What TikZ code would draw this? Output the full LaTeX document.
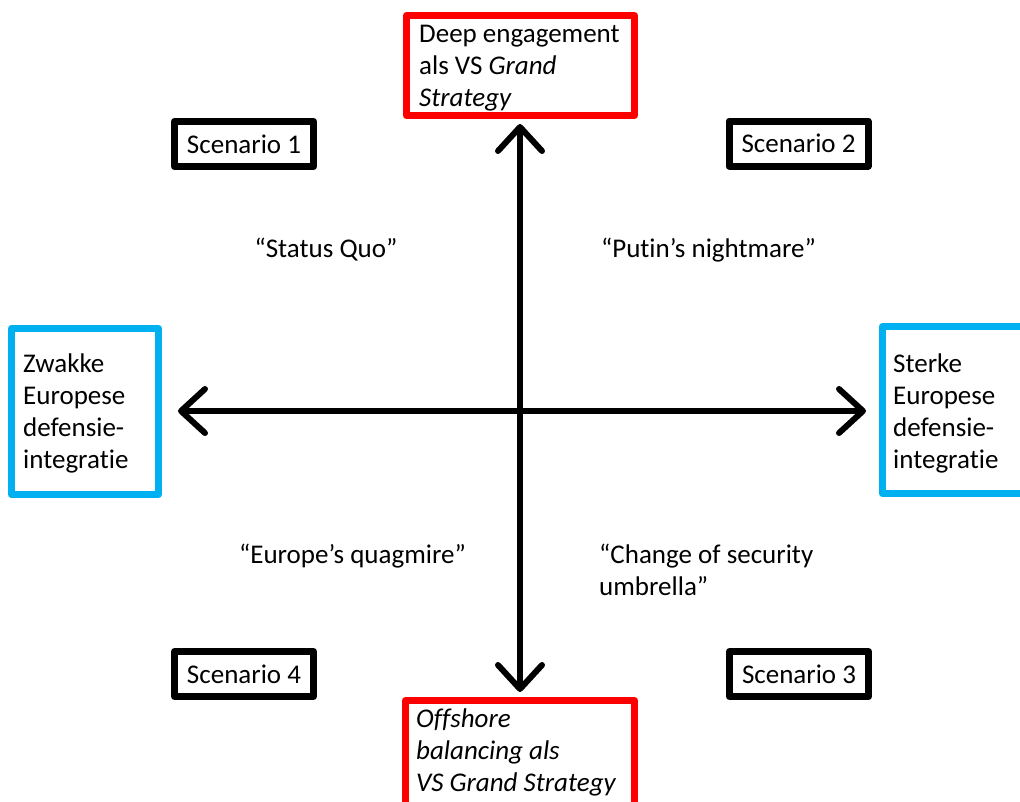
\documentclass[tikz,border=0pt]{standalone}
\usepackage{fontspec}
\setmainfont{Carlito}[RawFeature={-liga}]
\usetikzlibrary{arrows.meta,calc}
\definecolor{boxred}{RGB}{255,0,0}
\definecolor{boxblue}{RGB}{0,176,240}
\newcommand{\fs}{\fontsize{27}{32}\selectfont}
\newcommand{\frst}{\rule{0pt}{22pt}}
\begin{document}
\begin{tikzpicture}[x=1pt,y=-1pt,
  frame/.style={draw=#1, line width=7pt, line join=round, inner sep=0pt, fill=white},
  scen/.style={frame=black, minimum width=139pt, minimum height=45pt, font=\fs},
  txt/.style={inner sep=0pt, font=\fs, align=left, anchor=north west},
  quote/.style={inner sep=0pt, font=\fs, anchor=base},
  axis/.style={line width=6pt, {Straight Barb[length=24pt,width=44pt,round]}-{Straight Barb[length=24pt,width=44pt,round]}}
]
\useasboundingbox[fill=white] (0,0) rectangle (1020,801);

% main boxes
\node[frame=boxred, minimum width=228pt, minimum height=100pt] (deep) at (520.5,65.5) {};
\node[frame=boxred, minimum width=229pt, minimum height=140pt] (off) at (520,770.5) {};
\node[frame=boxblue, minimum width=147pt, minimum height=166pt] (zw) at (85,411.5) {};
\node[frame=boxblue, minimum width=178pt, minimum height=167pt] (st) at (971.5,410) {};

% box texts
\node[txt] (deeptxt) at (419,20) {\frst Deep engagement\\als VS \textit{Grand}\\\textit{Strategy}};
\node[txt] (offtxt) at (416,705) {\frst\textit{Offshore}\\\textit{balancing als}\\\textit{VS Grand Strategy}};
\node[txt] (zwtxt) at (23,350) {\frst Zwakke\\Europese\\defensie-\\integratie};
\node[txt] (sttxt) at (893,350) {\frst Sterke\\Europese\\defensie-\\integratie};

% scenarios
\node[scen] (s1) at (244,144) {Scenario 1};
\node[scen] (s2) at (798.5,143.5) {Scenario 2};
\node[scen] (s3) at (799,674) {Scenario 3};
\node[scen] (s4) at (244,674) {Scenario 4};

% quotes
\node[quote] (q1) at (326,257) {“Status Quo”};
\node[quote] (q2) at (708.5,257) {“Putin’s nightmare”};
\node[quote] (q4) at (352.5,563) {“Europe’s quagmire”};
\node[txt] (q3) at (599,541) {\frst “Change of security\\umbrella”};

% axes
\draw[axis, shorten <=5pt, shorten >=5pt] ($(deep.south)+(-0.5,0)$) -- (off.north);
\draw[axis, shorten <=16pt, shorten >=13pt] (zw.east |- 0,411) -- (st.west |- 0,411);
\end{tikzpicture}
\end{document}
